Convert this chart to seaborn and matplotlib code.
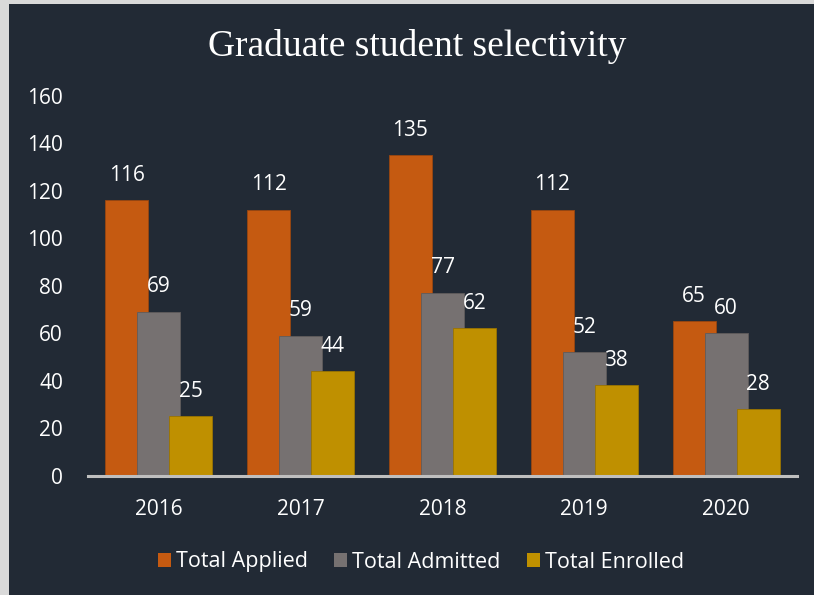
import matplotlib
matplotlib.use("Agg")
import matplotlib.pyplot as plt
import seaborn as sns
import pandas as pd
from matplotlib.patches import Rectangle

years = ["2016", "2017", "2018", "2019", "2020"]
series = ["Total Applied", "Total Admitted", "Total Enrolled"]
applied = [116, 112, 135, 112, 65]
admitted = [69, 59, 77, 52, 60]
enrolled = [25, 44, 62, 38, 28]
yticks = [0, 20, 40, 60, 80, 100, 120, 140, 160]

colors = ["#C55A11", "#767171", "#BF9000"]
edges = ["#9a4610", "#605c5c", "#9a7400"]
bg = "#222A35"

df = pd.DataFrame({
    "Year": years * 3,
    "Series": [series[0]] * 5 + [series[1]] * 5 + [series[2]] * 5,
    "Value": applied + admitted + enrolled,
})

sns.set_theme(style="white")
plt.rcParams["font.family"] = ["Open Sans", "DejaVu Sans"]

fig = plt.figure(figsize=(8.14, 5.95), dpi=100)
fig.patch.set_facecolor("#D9D9D9")
bgax = fig.add_axes([9 / 814, 0, 1, (595 - 4) / 595], zorder=-10)
bgax.set_facecolor(bg)
bgax.set_axis_off()
bgax.add_patch(Rectangle((0, 0), 1, 1, transform=bgax.transAxes, facecolor=bg, edgecolor="none"))

ax = fig.add_axes([88 / 814, 119.5 / 595, 709 / 814, 379.5 / 595])
ax.set_facecolor("none")

sns.barplot(data=df, x="Year", y="Value", hue="Series", hue_order=series,
            palette=colors, ax=ax, dodge=True, legend=False, saturation=1)

bw = 0.303
off = 0.226
nyear = len(years)
for i, p in enumerate(ax.patches[:nyear * 3]):
    s = i // nyear
    cx = p.get_x() + p.get_width() / 2
    gi = round(cx)
    newc = gi + (s - 1) * off
    p.set_x(newc - bw / 2)
    p.set_width(bw)
    p.set_edgecolor(edges[s])
    p.set_linewidth(0.6)
    h = p.get_height()
    ax.annotate(f"{h:.0f}", (newc, h), xytext=(0, 18), textcoords="offset points",
                ha="center", va="center", color="white", fontsize=15)

ax.set_xlim(-0.5, 4.5)
ax.set_ylim(0, 160)
ax.set_yticks(yticks)
ax.set_xlabel("")
ax.set_ylabel("")
for sp in ["top", "right", "left"]:
    ax.spines[sp].set_visible(False)
ax.spines["bottom"].set_color("#BFBFBF")
ax.spines["bottom"].set_linewidth(2.2)
ax.tick_params(axis="both", length=0, colors="white", labelsize=15)
ax.tick_params(axis="y", pad=18)
ax.tick_params(axis="x", pad=17)
ax.grid(False)

handles = [Rectangle((0, 0), 1, 1, facecolor=c, edgecolor="none") for c in colors]
leg = fig.legend(handles, series, loc="center", bbox_to_anchor=(421 / 814, 33 / 595),
                 ncol=3, frameon=False, fontsize=15.5, handlelength=0.6, handleheight=0.6,
                 handletextpad=0.25, columnspacing=1.2, labelcolor="white")

fig.text(417 / 814, (595 - 46) / 595, "Graduate student selectivity",
         ha="center", va="center", color="white", fontsize=27,
         family=["Liberation Serif", "DejaVu Serif"])

fig.savefig("out.png", dpi=100, facecolor=fig.get_facecolor())
